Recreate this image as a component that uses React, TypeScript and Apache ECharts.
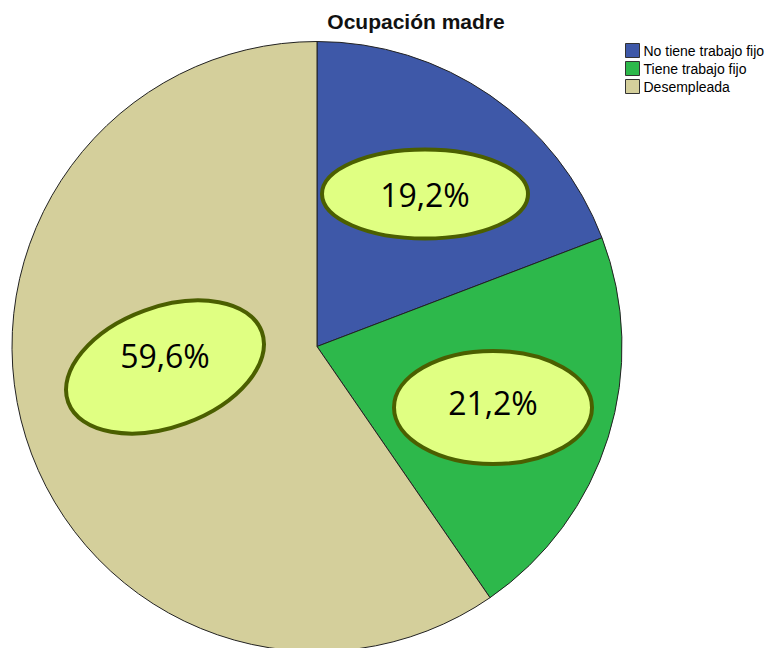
import React, { useEffect, useRef } from "react";
import * as echarts from "echarts";

const title = "Ocupación madre";
const categories = ["No tiene trabajo fijo", "Tiene trabajo fijo", "Desempleada"];
const percents = [19.2, 21.2, 59.6];
const colors = ["#3e58a8", "#2db84b", "#d4cf9b"];

// label ellipse layout (positions / sizes only)
const labelLayout = [
  { cx: 425, cy: 194, rx: 103, ry: 44.5, rot: 0, ty: 194 },
  { cx: 493, cy: 407.5, rx: 99, ry: 56.5, rot: 0, ty: 402 },
  { cx: 165, cy: 367, rx: 103, ry: 60, rot: 20, ty: 355 },
];

const fmt = (v: number) => v.toFixed(1).replace(".", ",") + "%";

export default function App() {
  const ref = useRef<HTMLDivElement>(null);
  useEffect(() => {
    if (!ref.current) return;
    const chart = echarts.init(ref.current, undefined, { renderer: "svg" });
    const graphics: any[] = [];
    percents.forEach((v, i) => {
      const L = labelLayout[i];
      graphics.push({
        type: "ellipse",
        x: L.cx,
        y: L.cy,
        rotation: (L.rot * Math.PI) / 180,
        shape: { cx: 0, cy: 0, rx: L.rx, ry: L.ry },
        style: { fill: "#e0ff82", stroke: "#4b5f00", lineWidth: 4 },
        z: 10,
      });
      graphics.push({
        type: "text",
        x: L.cx,
        y: L.ty,
        style: {
          text: fmt(v),
          fill: "#000",
          fontFamily: "Open Sans",
          fontSize: 32,
          align: "center",
          verticalAlign: "middle",
        },
        z: 11,
      });
    });
    chart.setOption({
      animation: false,
      backgroundColor: "#fff",
      title: {
        text: title,
        left: 416,
        top: 11,
        padding: 0,
        textAlign: "center",
        textStyle: {
          fontFamily: "Liberation Sans",
          fontSize: 21,
          fontWeight: "bold",
          color: "#111",
        },
      },
      legend: {
        orient: "vertical",
        left: 625,
        top: 43,
        padding: 0,
        itemWidth: 14,
        itemHeight: 14,
        itemGap: 3,
        icon: "rect",
        data: categories,
        itemStyle: { borderColor: "#333", borderWidth: 1 },
        textStyle: {
          fontFamily: "Liberation Sans",
          fontSize: 14,
          color: "#000",
          padding: [0, 0, 0, -1],
        },
      },
      series: [
        {
          type: "pie",
          center: [317, 346.5],
          radius: 305,
          startAngle: 90,
          clockwise: true,
          label: { show: false },
          labelLine: { show: false },
          emphasis: { disabled: true },
          itemStyle: { borderColor: "#222", borderWidth: 1 },
          data: categories.map((c, i) => ({
            name: c,
            value: percents[i],
            itemStyle: { color: colors[i] },
          })),
        },
      ],
      graphic: graphics,
    });
    return () => chart.dispose();
  }, []);
  return (
    <div
      ref={ref}
      style={{ position: "absolute", left: 0, top: 0, width: 767, height: 648 }}
    />
  );
}
